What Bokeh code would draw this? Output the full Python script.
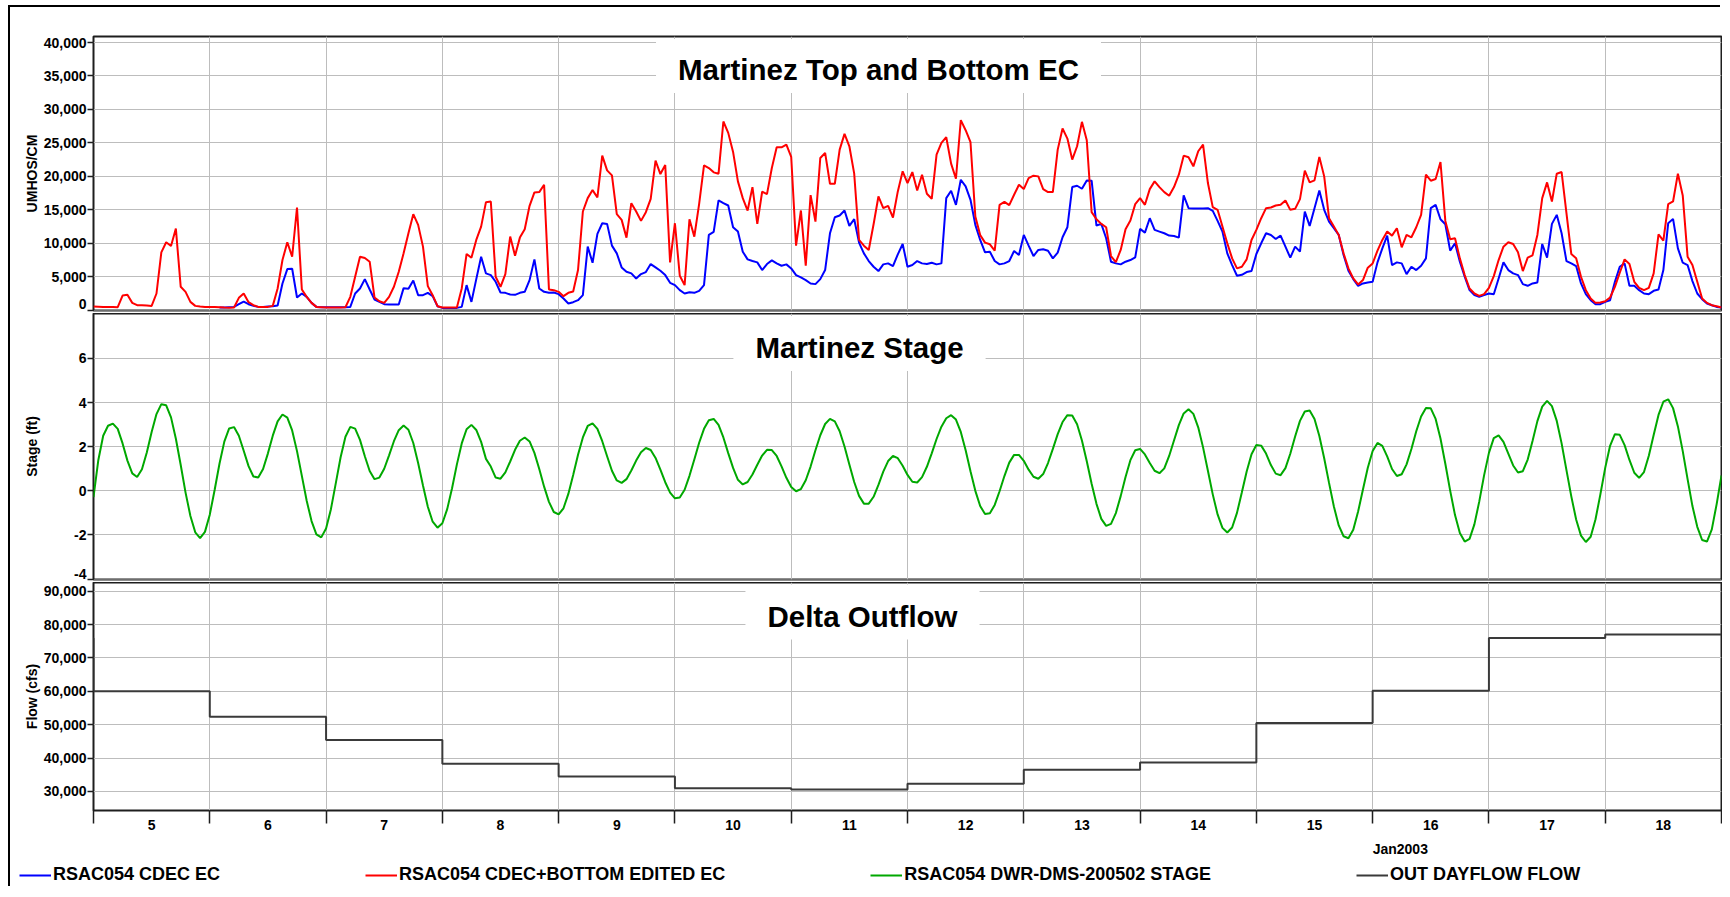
from bokeh.plotting import figure
from bokeh.models import Range1d, FixedTicker, NumeralTickFormatter, Label, Legend, LegendItem
from bokeh.layouts import column
from bokeh.embed import file_html
from bokeh.resources import INLINE

nan = float("nan")

# ---------------- data (hourly from 2003-01-05 00:00) ----------------
hours = list(range(337))

ec_cdec = [nan] * 26 + [
    400, 400, 450, 500, 900, 1300, 900, 650, 500, 500, 550, 600, 700, 4000, 6150, 6200, 1900, 2500, 2000, 1100, 500, 450, 450,
    450, 450, 450, 450, 500, 2500, 3250, 4650, 3100, 1600, 1250, 900, 850, 850, 850, 3300, 3200, 4450, 2250, 2250, 2600, 2100, 600, 350,
    350, 350, 350, 500, 3750, 1250, 4650, 8000, 5500, 5250, 4250, 2650, 2600, 2350, 2300, 2600, 2750, 4500, 7600, 3250, 2750, 2600, 2650, 2400,
    1750, 1000, 1200, 1500, 2250, 9500, 7100, 11400, 13000, 12900, 9650, 8500, 6400, 5750, 5500, 4750, 5400, 5700, 6900, 6400, 5900, 5250, 4100, 3750,
    3000, 2500, 2700, 2600, 2900, 3750, 11250, 11700, 16400, 16000, 15650, 12400, 11750, 8750, 7600, 7350, 7150, 6000, 6900, 7450, 7000, 6650, 6850, 6250,
    5250, 4900, 4500, 4000, 3900, 4650, 6000, 11500, 13900, 14150, 14900, 12600, 13600, 10100, 8500, 7350, 6500, 5850, 6850, 7000, 6600, 8350, 9900, 6500,
    6750, 7350, 7000, 6900, 7100, 6850, 7000, 16750, 17850, 15750, 19500, 18500, 16500, 12750, 10500, 8650, 8750, 7350, 6850, 7000, 7350, 8850, 8250, 11250,
    9650, 8100, 9000, 9100, 8900, 7750, 8600, 10900, 12400, 18400, 18600, 18150, 19400, 19350, 12650, 12900, 10750, 7250, 7000, 6850, 7250, 7500, 7900, 12150,
    11600, 13750, 12000, 11750, 11500, 11150, 11100, 10850, 17150, 15250, 15200, 15200, 15200, 15250, 14850, 13350, 11750, 8500, 6750, 5150, 5300, 5700, 5850, 8400,
    10000, 11500, 11250, 10650, 11150, 9500, 7850, 9500, 8750, 14750, 12600, 15250, 17900, 15000, 13250, 12250, 11250, 8250, 5900, 4650, 3650, 4000, 4150, 4250,
    7150, 9250, 11150, 6750, 7150, 7000, 5400, 6500, 6000, 6650, 7750, 15250, 15750, 13600, 12850, 8900, 10000, 7250, 5000, 3000, 2250, 2000, 2250, 2500,
    2400, 4750, 7150, 6000, 5500, 5250, 3900, 3650, 4000, 4150, 9900, 7850, 12900, 14250, 11500, 7350, 7000, 6600, 4000, 2400, 1500, 900, 900, 1250,
    1500, 4250, 6500, 7000, 3650, 3650, 3000, 2500, 2400, 2900, 3100, 6000, 13000, 13650, 9250, 7100, 6750, 4350, 2500, 1650, 1000, 750, 500, 400,
]

ec_bottom = [
    550, 530, 500, 480, 470, 450, 2200, 2300, 1100, 750, 750, 700, 650, 2500, 8650, 10150, 9600, 12200, 3500, 2750, 1250, 650, 550, 500, 500,
    500, 450, 400, 380, 400, 1850, 2500, 1200, 750, 500, 500, 500, 650, 3250, 7500, 10150, 8000, 15350, 3100, 2000, 1100, 500, 450, 400,
    400, 400, 400, 450, 2000, 5000, 8000, 7800, 7250, 1900, 1350, 1100, 2000, 3500, 5750, 8500, 11500, 14350, 12750, 9500, 3600, 2250, 600, 400,
    400, 400, 400, 3250, 8400, 7850, 10500, 12500, 16150, 16250, 5000, 3500, 5400, 11000, 8150, 10850, 12100, 15600, 17600, 17650, 18750, 3100, 3000, 2750,
    2100, 2600, 2800, 6000, 14750, 16750, 17950, 16850, 23100, 20900, 20150, 14350, 13500, 10850, 16000, 14750, 13350, 14650, 16650, 22350, 20350, 21700, 7150, 13000,
    5150, 3750, 13600, 11000, 15900, 21650, 21250, 20600, 20400, 28200, 26500, 23650, 19250, 16750, 14900, 18400, 12900, 17700, 17350, 21250, 24350, 24350, 24750, 22900,
    9650, 14900, 6650, 17200, 13250, 22750, 23500, 18900, 18900, 24000, 26350, 24500, 20400, 10500, 9650, 9000, 12850, 17000, 15250, 15600, 13850, 17750, 20750, 19000,
    20650, 17900, 20250, 17400, 16650, 23250, 25000, 25850, 21900, 19650, 28400, 26900, 25100, 14000, 11250, 10100, 9850, 8900, 15750, 16200, 15700, 17250, 18750, 18100,
    19750, 20100, 20000, 18100, 17650, 17650, 24000, 27150, 25650, 22500, 24500, 28150, 25400, 14650, 13600, 12900, 12400, 8100, 7200, 9000, 12100, 13400, 15850, 16750,
    15750, 18100, 19250, 18400, 17650, 17100, 18400, 20250, 23100, 22850, 21500, 23750, 24750, 19000, 15400, 15000, 12500, 10000, 7750, 6250, 6500, 7600, 10500, 12000,
    13750, 15250, 15350, 15650, 15750, 16400, 15000, 15150, 16600, 20850, 19100, 19400, 22900, 20000, 13750, 12500, 11250, 8500, 6250, 4750, 3850, 4500, 6350, 7000,
    8900, 10500, 11750, 11150, 12250, 9400, 11250, 10900, 12400, 14250, 20250, 19350, 19600, 22150, 13350, 10600, 10750, 7750, 5250, 3250, 2500, 2150, 2400, 3350,
    5100, 7500, 9500, 10150, 9900, 8650, 5850, 7850, 8200, 11250, 16750, 19100, 16250, 20400, 20650, 14500, 8400, 7750, 5000, 3000, 1750, 1100, 1150, 1350,
    1900, 3500, 5600, 7600, 6900, 4250, 3350, 3000, 3350, 5500, 11350, 10400, 15850, 16250, 20400, 17150, 8000, 6750, 4250, 1750, 1100, 750, 600, 400,
]

stage_ft = [
    -0.29, 1.4, 2.5, 2.95, 3.05, 2.81, 2.15, 1.37, 0.79, 0.63, 0.98, 1.74, 2.67, 3.48, 3.93, 3.88, 3.33, 2.36, 1.17, -0.08, -1.14, -1.88, -2.14, -1.86, -1.08,
    0.04, 1.23, 2.23, 2.83, 2.89, 2.5, 1.82, 1.12, 0.65, 0.6, 0.99, 1.7, 2.5, 3.15, 3.46, 3.32, 2.74, 1.8, 0.68, -0.45, -1.37, -1.97, -2.11, -1.71,
    -0.83, 0.34, 1.52, 2.45, 2.9, 2.82, 2.31, 1.57, 0.9, 0.53, 0.6, 1.0, 1.61, 2.25, 2.75, 2.96, 2.77, 2.17, 1.26, 0.24, -0.72, -1.4, -1.67, -1.47,
    -0.83, 0.12, 1.2, 2.15, 2.79, 2.99, 2.76, 2.22, 1.45, 1.1, 0.6, 0.55, 0.84, 1.33, 1.86, 2.27, 2.42, 2.24, 1.72, 0.99, 0.19, -0.5, -0.96, -1.07,
    -0.79, -0.14, 0.72, 1.64, 2.42, 2.94, 3.06, 2.81, 2.25, 1.57, 0.91, 0.47, 0.36, 0.53, 0.92, 1.37, 1.75, 1.94, 1.85, 1.49, 0.96, 0.39, -0.08, -0.34,
    -0.3, 0.05, 0.68, 1.42, 2.18, 2.81, 3.2, 3.26, 2.99, 2.42, 1.71, 1.04, 0.5, 0.29, 0.4, 0.74, 1.18, 1.6, 1.86, 1.85, 1.58, 1.11, 0.59, 0.17,
    -0.02, 0.08, 0.48, 1.1, 1.84, 2.52, 3.03, 3.26, 3.15, 2.7, 2.01, 1.19, 0.4, -0.23, -0.58, -0.58, -0.27, 0.27, 0.87, 1.35, 1.58, 1.48, 1.14, 0.72,
    0.41, 0.38, 0.62, 1.09, 1.7, 2.35, 2.91, 3.29, 3.43, 3.23, 2.67, 1.84, 0.89, 0.0, -0.69, -1.05, -1.02, -0.64, -0.02, 0.67, 1.28, 1.63, 1.63, 1.36,
    0.96, 0.64, 0.55, 0.76, 1.26, 1.9, 2.57, 3.12, 3.43, 3.42, 3.02, 2.28, 1.34, 0.32, -0.59, -1.27, -1.59, -1.5, -1.01, -0.24, 0.63, 1.39, 1.84, 1.9,
    1.65, 1.26, 0.91, 0.8, 1.02, 1.58, 2.28, 2.98, 3.51, 3.7, 3.49, 2.88, 1.97, 0.91, -0.16, -1.07, -1.68, -1.89, -1.66, -1.0, -0.08, 0.88, 1.66, 2.08,
    2.05, 1.69, 1.17, 0.78, 0.71, 1.03, 1.68, 2.46, 3.17, 3.6, 3.64, 3.26, 2.49, 1.48, 0.36, -0.71, -1.57, -2.06, -2.15, -1.76, -0.94, 0.06, 1.05, 1.81,
    2.17, 2.04, 1.56, 0.99, 0.67, 0.75, 1.2, 1.9, 2.7, 3.37, 3.75, 3.74, 3.26, 2.37, 1.23, 0.01, -1.1, -1.91, -2.3, -2.18, -1.52, -0.49, 0.7, 1.72,
    2.39, 2.51, 2.22, 1.69, 1.15, 0.83, 0.89, 1.42, 2.26, 3.16, 3.82, 4.08, 3.84, 3.17, 2.15, 0.94, -0.25, -1.3, -2.03, -2.32, -2.08, -1.29, -0.16, 1.04,
    2.04, 2.57, 2.54, 2.07, 1.4, 0.82, 0.59, 0.85, 1.59, 2.53, 3.44, 4.04, 4.15, 3.75, 2.92, 1.8, 0.53, -0.69, -1.63, -2.23, -2.3, -1.75, -0.6, 0.7,
]

# daily Dayflow outflow, step starting at each day (hours from Jan 5 00:00)
flow_hour = [-24, 0, 24, 48, 72, 96, 120, 144, 168, 192, 216, 240, 264, 288, 312, 336]
flow_cfs = [75900, 60000, 52400, 45400, 38300, 34500, 31000, 30600, 32300, 36500, 38700, 50500, 60200, 76000, 77000, 77000]

day_labels = ["5", "6", "7", "8", "9", "10", "11", "12", "13", "14", "15", "16", "17", "18"]
ec_ticks = [0, 5000, 10000, 15000, 20000, 25000, 30000, 35000, 40000]
stage_ticks = [-4, -2, 0, 2, 4, 6]
flow_ticks = [30000, 40000, 50000, 60000, 70000, 80000, 90000]

series_names = ["RSAC054 CDEC EC", "RSAC054 CDEC+BOTTOM EDITED EC",
                "RSAC054 DWR-DMS-200502 STAGE", "OUT DAYFLOW FLOW"]

# ---------------- styling / geometry ----------------
FONT = "Liberation Sans"
BLUE, RED, GREEN, GREY = "#0000ff", "#ff0000", "#00a800", "#3a3a3a"
GRID = "#bdbdbd"
EDGE = "#1e1e1e"
W = 1712
ML, MR = 83, 1
FRAME_W = W - ML - MR
PAGE_X0 = 10          # column left edge on the page
FRAME_X0 = PAGE_X0 + ML

x_range = Range1d(0, 336)
boundaries = [24 * i for i in range(15)]
noons = [12 + 24 * i for i in range(14)]


def make_panel(height, top, bottom, yr, ylabel, yticks, label_gap, nudge=None, xaxis=False):
    """nudge = (tick value, px) : the label of that bottom tick is lifted by px
    so that it stays inside the panel, as in the original chart."""
    p = figure(width=W, height=height, x_range=x_range, y_range=yr,
               output_backend="svg", toolbar_location=None,
               x_axis_location="below" if xaxis else None,
               min_border_left=ML, min_border_right=MR,
               min_border_top=top, min_border_bottom=bottom)
    p.background_fill_color = "white"
    p.border_fill_color = "white"
    p.outline_line_color = EDGE
    p.outline_line_width = 2
    p.xgrid.ticker = FixedTicker(ticks=boundaries)
    p.xgrid.grid_line_color = GRID
    p.ygrid.ticker = FixedTicker(ticks=yticks)
    p.ygrid.grid_line_color = GRID
    ya = p.yaxis[0]
    label_ticks = list(yticks)
    overrides = {}
    if nudge is not None:
        val, px = nudge
        frame_h = height - top - bottom
        shifted = val + px * (yr.end - yr.start) / frame_h
        label_ticks = [shifted if t == val else t for t in yticks]
        overrides = {shifted: NumeralTickFormatter(format="0,0").format if False else "{:,}".format(val)}
    # tick marks drawn as "minor" ticks at the true values, labels on the major ticks
    ya.ticker = FixedTicker(ticks=label_ticks, minor_ticks=list(yticks))
    ya.formatter = NumeralTickFormatter(format="0,0")
    if overrides:
        ya.major_label_overrides = overrides
    ya.axis_line_color = None
    ya.major_tick_out = 0
    ya.major_tick_in = 0
    ya.major_tick_line_color = None
    ya.minor_tick_out = 6
    ya.minor_tick_in = 0
    ya.minor_tick_line_color = EDGE
    ya.minor_tick_line_width = 1.5
    ya.major_label_standoff = 1
    ya.major_label_text_font = FONT
    ya.major_label_text_font_size = "14px"
    ya.major_label_text_font_style = "bold"
    ya.major_label_text_color = "black"
    ya.axis_label = ylabel
    ya.axis_label_text_font = FONT
    ya.axis_label_text_font_size = "14px"
    ya.axis_label_text_font_style = "bold"
    ya.axis_label_text_color = "black"
    ya.axis_label_standoff = label_gap
    return p


def y_from_page(p, y_page, top_page, bottom_page):
    yr = p.y_range
    return yr.end - (y_page - top_page) / (bottom_page - top_page) * (yr.end - yr.start)


def x_from_page(x_page):
    return (x_page - FRAME_X0) / FRAME_W * (x_range.end - x_range.start) + x_range.start


def title_label(p, text, x_page, y_page, top_page, bottom_page, pad_top, pad_bottom):
    p.add_layout(Label(x=x_from_page(x_page), y=y_from_page(p, y_page, top_page, bottom_page),
                       text=text, text_font=FONT, text_font_size="29.5px",
                       text_font_style="bold", text_color="black",
                       text_align="center", text_baseline="middle",
                       background_fill_color="white",
                       padding=dict(left=22, right=22, top=pad_top, bottom=pad_bottom)))


# ---- EC panel (page y 7..313, frame 36..310) ----
p1 = make_panel(306, 29, 3, Range1d(-40, 40900), "UMHOS/CM", ec_ticks, 1, nudge=(0, 6))
p1.line(hours, ec_cdec, line_color=BLUE, line_width=2)
p1.line(hours, ec_bottom, line_color=RED, line_width=2)
title_label(p1, "Martinez Top and Bottom EC", 878, 65.5, 36, 310, 14, 7)

# ---- Stage panel (page y 313..582, frame 313..579) ----
p2 = make_panel(269, 0, 3, Range1d(-4.02, 8.04), "Stage (ft)", stage_ticks, 31, nudge=(-4, 5))
p2.line(hours, stage_ft, line_color=GREEN, line_width=2)
title_label(p2, "Martinez Stage", 859, 343, 313, 579, 15, 7)

# ---- Flow panel (page y 582..838, frame 582..810) ----
p3 = make_panel(256, 0, 28, Range1d(24300, 92600), "Flow (cfs)", flow_ticks, 1, xaxis=True)
p3.step(flow_hour, flow_cfs, mode="after", line_color=GREY, line_width=2)
title_label(p3, "Delta Outflow", 862, 611.5, 582, 810, 15, 7)
xa = p3.xaxis[0]
xa.ticker = FixedTicker(ticks=noons, minor_ticks=boundaries)
xa.major_label_overrides = {t: lab for t, lab in zip(noons, day_labels)}
xa.axis_line_color = None
xa.major_tick_out = 0
xa.major_tick_in = 0
xa.major_tick_line_color = None
xa.minor_tick_out = 13
xa.minor_tick_in = 0
xa.minor_tick_line_color = EDGE
xa.minor_tick_line_width = 1.5
xa.major_label_standoff = -4
xa.major_label_text_font = FONT
xa.major_label_text_font_size = "14px"
xa.major_label_text_font_style = "bold"
xa.major_label_text_color = "black"

# ---- legend strip (page y 838..888), its own full-width frame ----
H4 = 50
p4 = figure(width=W, height=H4, x_range=Range1d(0, W), y_range=Range1d(0, H4),
            output_backend="svg", toolbar_location=None,
            x_axis_location=None, y_axis_location=None,
            min_border_left=0, min_border_right=0, min_border_top=0, min_border_bottom=0)
p4.frame_align = False
p4.grid.visible = False
p4.outline_line_color = None
p4.background_fill_color = "white"
p4.border_fill_color = "white"
colors = [BLUE, RED, GREEN, GREY]
rends = [p4.line(x=[nan], y=[nan], line_color=c, line_width=2) for c in colors]
legend = Legend(items=[LegendItem(label=n, renderers=[r]) for n, r in zip(series_names, rends)],
                orientation="horizontal", location=(19 - PAGE_X0, 3),
                glyph_width=32, glyph_height=20, label_standoff=2, spacing=145,
                padding=0, margin=0, border_line_color=None, background_fill_alpha=0,
                label_text_font=FONT, label_text_font_size="18px",
                label_text_font_style="bold", label_text_color="black")
p4.add_layout(legend)
# "Jan2003" starts at the Jan 16 day boundary of the panels above
jan_x = ML + (264 - x_range.start) / (x_range.end - x_range.start) * FRAME_W
p4.add_layout(Label(x=jan_x, y=39.5, text="Jan2003", text_font=FONT, text_font_size="14px",
                    text_font_style="bold", text_color="black",
                    text_align="left", text_baseline="middle"))

layout = column(p1, p2, p3, p4, spacing=0,
                styles={"margin-left": "%dpx" % PAGE_X0, "margin-top": "7px",
                        "box-shadow": "-2px -2px 0 0 #000"})

open("out.html", "w").write(file_html(layout, INLINE))
